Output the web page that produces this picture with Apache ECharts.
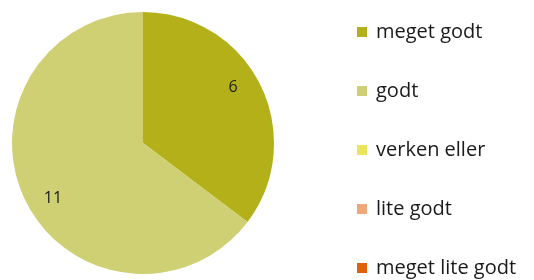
<!DOCTYPE html>
<html>
<head>
<meta charset="utf-8">
<script src="https://cdn.jsdelivr.net/npm/echarts@6/dist/echarts.min.js"></script>
<style>
html,body{margin:0;padding:0;background:#fff;}
#chart{width:534px;height:280px;}
</style>
</head>
<body>
<div id="chart"></div>
<script>
var categories=['meget godt','godt','verken eller','lite godt','meget lite godt'];
var values=[6,11,0,0,0];
var colors=['#b3b01a','#cfcf74','#ece45a','#f0a878','#e0600c'];

var pieData=[],labelData=[];
for(var i=0;i<categories.length;i++){
    pieData.push({name:categories[i],value:values[i],itemStyle:{color:colors[i]}});
    labelData.push({name:categories[i],value:values[i]});
}

var myChart=echarts.init(document.getElementById('chart'),null,{renderer:'canvas'});
var option={
    animation:false,
    legend:{
        orient:'vertical',
        left:352,
        top:16,
        height:275,
        icon:'rect',
        itemWidth:10,
        itemHeight:10,
        itemGap:37,
        data:categories,
        selectedMode:false,
        textStyle:{
            fontFamily:'Open Sans',
            fontSize:20,
            lineHeight:22,
            color:'#1a1a1a',
            padding:[0,0,0,4]
        }
    },
    series:[
        {
            type:'pie',
            center:[143,143],
            radius:[0,131],
            startAngle:90,
            clockwise:true,
            silent:true,
            label:{show:false},
            labelLine:{show:false},
            itemStyle:{borderWidth:0},
            data:pieData
        },
        {
            // transparent ring only to place the numbers further out
            type:'pie',
            center:[143,143],
            radius:[74,131],
            startAngle:95,
            clockwise:true,
            silent:true,
            legendHoverLink:false,
            itemStyle:{color:'rgba(0,0,0,0)',borderWidth:0},
            label:{
                show:true,
                position:'inside',
                fontFamily:'Open Sans',
                fontSize:16,
                color:'#1a1a1a',
                formatter:function(p){
                    return p.value?String(p.value):'';
                }
            },
            labelLine:{show:false},
            data:labelData
        }
    ]
};
myChart.setOption(option);
</script>
</body>
</html>
